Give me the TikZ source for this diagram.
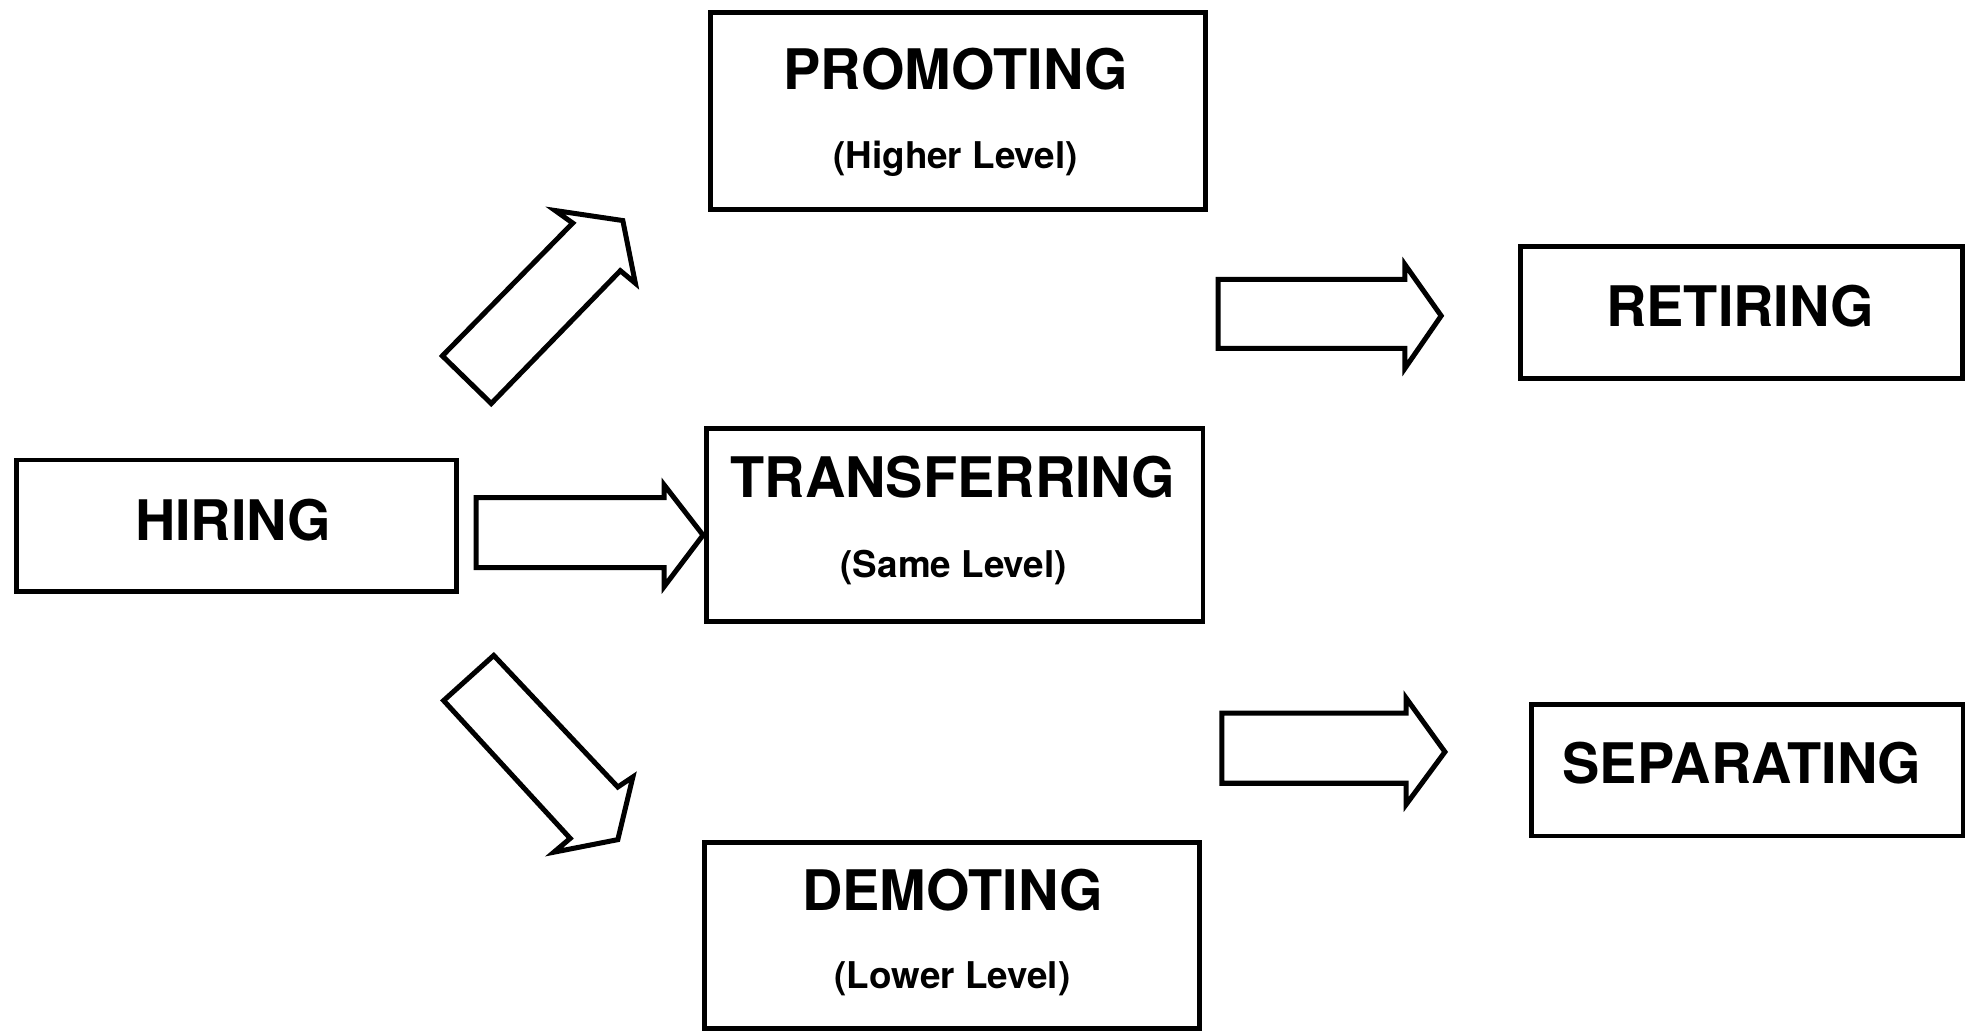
\documentclass[tikz,border=0pt]{standalone}
\usepackage{fontspec}
\setmainfont{TeX Gyre Heros}
\begin{document}
\begin{tikzpicture}[x=0.5pt,y=-0.5pt,
  box/.style={draw, line width=1.9pt, inner sep=0pt},
  title/.style={font=\fontsize{22.3}{26}\selectfont\bfseries, inner sep=0pt},
  sub/.style={font=\fontsize{14.7}{17}\selectfont\bfseries, inner sep=0pt},
  blockarrow/.style={draw, line width=2pt, line join=miter}]
\useasboundingbox (0,0) rectangle (1568,824);

% boxes
\node[box, minimum width=197.5pt, minimum height=78.5pt] (prom) at (764.5,88.5) {};
\node[box, minimum width=176.5pt, minimum height=52.5pt] (reti) at (1389.5,249.5) {};
\node[box, minimum width=175.5pt, minimum height=52.5pt] (hire) at (188.5,419.5) {};
\node[box, minimum width=198pt,   minimum height=77pt]   (tran) at (762,419) {};
\node[box, minimum width=172.5pt, minimum height=52.5pt] (sepa) at (1394.5,614.5) {};
\node[box, minimum width=197.5pt, minimum height=74.5pt] (demo) at (759.5,746.5) {};

% texts
\node[title] (promT) at (762.5,55) {PROMOTING};
\node[sub]   (promS) at (762.5,127) {(Higher Level)};
\node[title] (retiT) at (1388.5,244) {RETIRING};
\node[title] (hireT) at (186,415) {HIRING};
\node[title] (tranT) at (760.5,381) {TRANSFERRING};
\node[sub]   (tranS) at (761,453) {(Same Level)};
\node[title] (sepaT) at (1390,609) {SEPARATING};
\node[title] (demoT) at (760,710) {DEMOTING};
\node[sub]   (demoS) at (760,781) {(Lower Level)};

% block arrows
\draw[blockarrow] (353,284) -- (457,178) -- (443,168) -- (497,176) -- (507,226) -- (495,216) -- (392,322) -- cycle;
\draw[blockarrow] (394,523) -- (354,559) -- (455,669) -- (442,680) -- (493,670) -- (505,620) -- (493,628) -- cycle;
\draw[blockarrow] (380,397) -- (530,397) -- (530,387) -- (561,427) -- (530,468) -- (530,453) -- (380,453) -- cycle;
\draw[blockarrow] (972,223) -- (1121,223) -- (1121,211) -- (1150,252) -- (1121,294) -- (1121,278) -- (972,278) -- cycle;
\draw[blockarrow] (975,569) -- (1122,569) -- (1122,557) -- (1153,600) -- (1122,642) -- (1122,625) -- (975,625) -- cycle;
\end{tikzpicture}
\end{document}
